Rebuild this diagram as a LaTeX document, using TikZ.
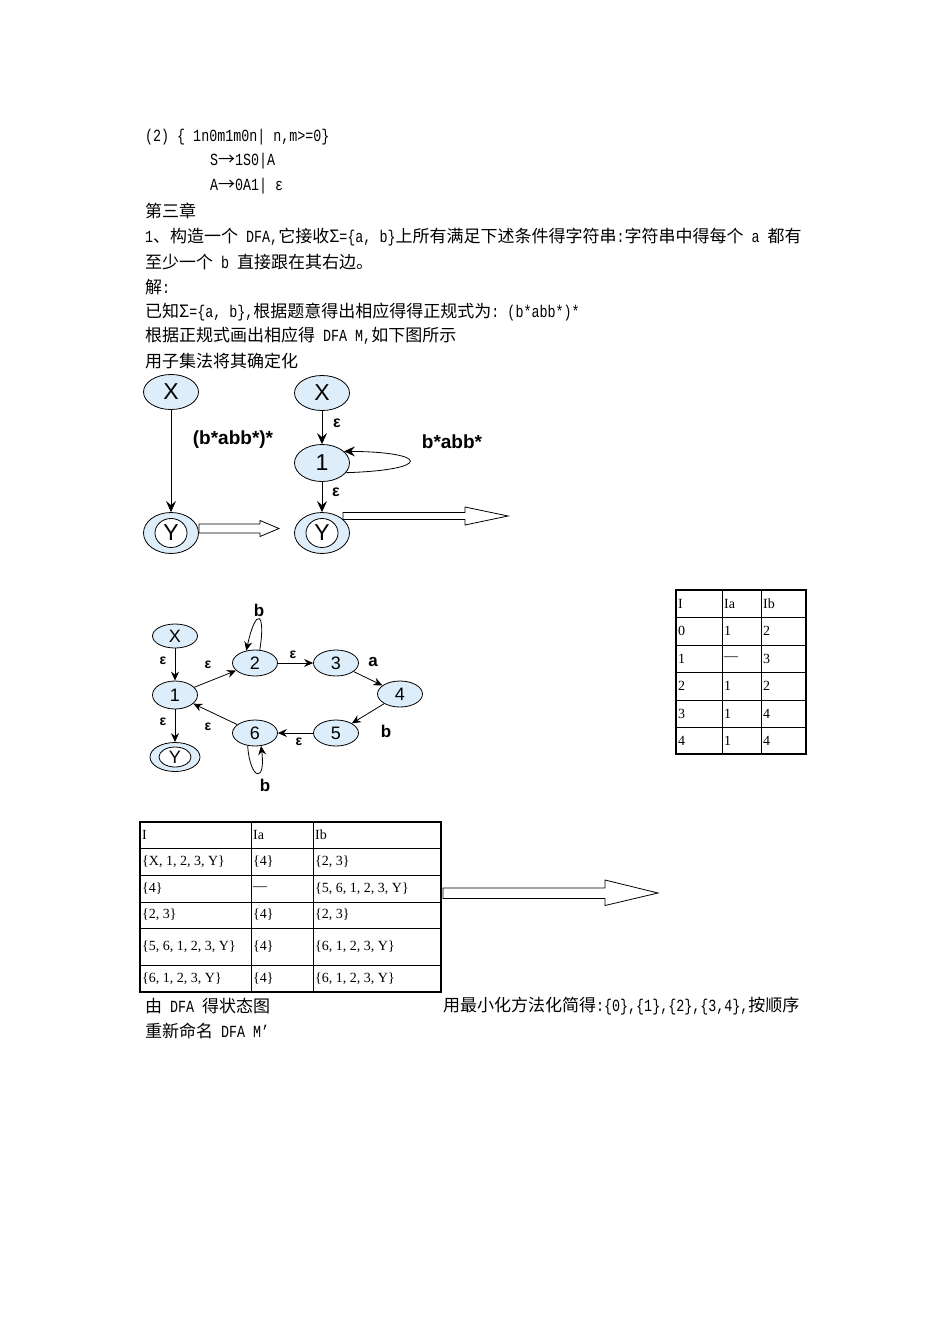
\documentclass[tikz,border=0pt]{standalone}
\usepackage{fontspec}
\setmainfont{Liberation Serif}
\newfontfamily\cjk{Noto Sans CJK SC}
\newfontfamily\lat[FakeStretch=0.785]{Liberation Mono}
\newfontfamily\lsans{Liberation Sans}
\usetikzlibrary{shapes.geometric,arrows.meta}
\definecolor{nodefill}{RGB}{221,238,250}
\newcommand\zh[1]{{\cjk #1}}
\begin{document}
\begin{tikzpicture}[x=1pt,y=-1pt,
  txt/.style={anchor=west,inner sep=0pt,font=\lat\fontsize{17}{19}\selectfont},
  cell/.style={anchor=west,inner sep=0pt,font=\fontsize{14}{16}\selectfont},
  bigst/.style={ellipse,draw=black,fill=nodefill,line width=0.8pt,inner sep=0pt,
     minimum width=55pt,minimum height=35pt,font=\lsans\fontsize{23}{24}\selectfont},
  bigin/.style={ellipse,draw=black,fill=white,line width=0.8pt,inner sep=0pt,
     minimum width=32pt,minimum height=29pt,font=\lsans\fontsize{23}{24}\selectfont},
  smst/.style={ellipse,draw=black,fill=nodefill,line width=0.8pt,inner sep=0pt,
     minimum width=45pt,minimum height=26pt,font=\lsans\fontsize{18}{20}\selectfont},
  smin/.style={ellipse,draw=black,fill=white,line width=0.8pt,inner sep=0pt,
     minimum width=32pt,minimum height=20pt,font=\lsans\fontsize{18}{20}\selectfont},
  bigarr/.style={-{Stealth[length=11pt,width=10pt,inset=4pt]},line width=0.8pt},
  smarr/.style={-{Stealth[length=9pt,width=8pt,inset=3pt]},line width=0.8pt},
  biglab/.style={inner sep=0pt,font=\lsans\bfseries\fontsize{19}{20}\selectfont},
  bigeps/.style={inner sep=0pt,font=\lsans\bfseries\fontsize{16}{18}\selectfont},
  eps/.style={inner sep=0pt,font=\lsans\bfseries\fontsize{14}{16}\selectfont},
  lab/.style={inner sep=0pt,font=\lsans\bfseries\fontsize{17}{18}\selectfont},
  hollow/.style={draw=black,fill=white,line width=0.8pt},
  thin/.style={line width=0.8pt},
  thick/.style={line width=2.2pt}
]
\useasboundingbox (0,0) rectangle (950,1344);

% ---------------- text lines ----------------
\node[txt] (l1) at (145,137) {(2)~\{~1n0m1m0n|~n,m>=0\}};
\node[txt] (l2) at (210,161) {S\zh{→}1S0|A};
\node[txt] (l3) at (210,186) {A\zh{→}0A1|~ε};
\node[txt] (l4) at (145,211) {\zh{第三章}};
\node[txt] (l5) at (145,237) {1\zh{、构造一个}~DFA,\zh{它接收Σ}=\{a,~b\}\zh{上所有满足下述条件得字符串}:\zh{字符串中得每个}~a~\zh{都有}};
\node[txt] (l6) at (145,262) {\zh{至少一个}~b~\zh{直接跟在其右边。}};
\node[txt] (l7) at (145,287) {\zh{解}:};
\node[txt] (l8) at (145,312) {\zh{已知Σ}=\{a,~b\},\zh{根据题意得出相应得得正规式为}:~(b*abb*)*};
\node[txt] (l9) at (145,336) {\zh{根据正规式画出相应得}~DFA~M,\zh{如下图所示}};
\node[txt] (l10) at (145,361) {\zh{用子集法将其确定化}};

% ---------------- top diagram ----------------
\node[bigst] (XA) at (171,392) {X};
\node[bigst,minimum height=41pt] (YA) at (171,533) {};
\node[bigin] (YAi) at (171,533) {Y};
\draw[bigarr] (XA) -- (YA);
\node[biglab] (labA) at (233,440) {(b*abb*)*};

\node[bigst] (XB) at (322,393) {X};
\node[bigst,minimum height=37pt] (B1) at (322,463) {1};
\node[bigst,minimum height=41pt] (YB) at (322,533) {};
\node[bigin] (YBi) at (322,533) {Y};
\draw[bigarr] (XB) -- (B1);
\draw[bigarr] (B1) -- (YB);
\node[bigeps] (eB1) at (337,423) {ε};
\node[bigeps] (eB2) at (336,492) {ε};
\draw[bigarr] (B1.-22) .. controls (432,470) and (430,452) .. (B1.28);
\node[biglab] (labB) at (452,442) {b*abb*};

\draw[hollow] (YA.east |- 0,524) -- (260,524) -- (260,520.5) -- (279,528.5) -- (260,536.5) -- (260,533) -- (YA.east |- 0,533) -- cycle;
\draw[hollow] (343,512.5) -- (465,512.5) -- (465,507) -- (508,516) -- (465,525) -- (465,519.5) -- (343,519.5) -- cycle;

% ---------------- second diagram ----------------
\node[smst,minimum height=24pt] (X2) at (175,636) {X};
\node[smst,minimum height=28pt] (S1) at (175,695) {1};
\node[smst,minimum width=50pt,minimum height=29pt] (Y2) at (175,757) {};
\node[smin] (Y2i) at (175,757) {Y};
\node[smst] (S2) at (255,663) {2};
\node[smst] (S3) at (336,663) {3};
\node[smst] (S4) at (400,694) {4};
\node[smst] (S5) at (336,733) {5};
\node[smst] (S6) at (255,733) {6};

\draw[smarr] (X2) -- (S1);
\draw[smarr] (S1) -- (Y2);
\draw[smarr] (S1) -- (S2);
\draw[smarr] (S2) -- (S3);
\draw[smarr] (S3) -- (S4);
\draw[smarr] (S4) -- (S5);
\draw[smarr] (S5) -- (S6);
\draw[smarr] (S6) -- (S1);
\draw[smarr] (S2.70) .. controls (266,612) and (256,606) .. (S2.125);
\draw[smarr] (S6.-120) .. controls (250,780) and (266,784) .. (S6.-65);

\node[eps] (e1) at (163,661) {ε};
\node[eps] (e2) at (208,665) {ε};
\node[eps] (e3) at (293,655) {ε};
\node[lab] (la) at (373,662) {a};
\node[lab] (lb1) at (386,731) {b};
\node[eps] (e4) at (299,742) {ε};
\node[eps] (e5) at (208,727) {ε};
\node[eps] (e6) at (163,722) {ε};
\node[lab] (lb2) at (259,610) {b};
\node[lab] (lb3) at (265,785) {b};

% ---------------- table 1 ----------------
\foreach \yy in {617,645,672,700,727} \draw[thin] (676,\yy) -- (806,\yy);
\draw[thin] (722,590) -- (722,754);
\draw[thin] (761,590) -- (761,754);
\draw[thick] (676,590) rectangle (806,754);
\node[cell] (ta00) at (678,603.5) {I};
\node[cell] (ta01) at (724,603.5) {Ia};
\node[cell] (ta02) at (763,603.5) {Ib};
\node[cell] (ta10) at (678,631) {0};
\node[cell] (ta11) at (724,631) {1};
\node[cell] (ta12) at (763,631) {2};
\node[cell] (ta20) at (678,658.5) {1};
\node[cell] (ta21) at (724,658.5) {—};
\node[cell] (ta22) at (763,658.5) {3};
\node[cell] (ta30) at (678,686) {2};
\node[cell] (ta31) at (724,686) {1};
\node[cell] (ta32) at (763,686) {2};
\node[cell] (ta40) at (678,713.5) {3};
\node[cell] (ta41) at (724,713.5) {1};
\node[cell] (ta42) at (763,713.5) {4};
\node[cell] (ta50) at (678,740.5) {4};
\node[cell] (ta51) at (724,740.5) {1};
\node[cell] (ta52) at (763,740.5) {4};

% ---------------- table 2 ----------------
\foreach \yy in {848,875,902,928,965} \draw[thin] (140,\yy) -- (441,\yy);
\draw[thin] (251,822) -- (251,992);
\draw[thin] (313,822) -- (313,992);
\draw[thick] (140,822) rectangle (441,992);
\node[cell] (tb00) at (142,835) {I};
\node[cell] (tb01) at (253,835) {Ia};
\node[cell] (tb02) at (315,835) {Ib};
\node[cell] (tb10) at (142,861.5) {\{X, 1, 2, 3, Y\}};
\node[cell] (tb11) at (253,861.5) {\{4\}};
\node[cell] (tb12) at (315,861.5) {\{2, 3\}};
\node[cell] (tb20) at (142,888.5) {\{4\}};
\node[cell] (tb21) at (253,888.5) {—};
\node[cell] (tb22) at (315,888.5) {\{5, 6, 1, 2, 3, Y\}};
\node[cell] (tb30) at (142,915) {\{2, 3\}};
\node[cell] (tb31) at (253,915) {\{4\}};
\node[cell] (tb32) at (315,915) {\{2, 3\}};
\node[cell] (tb40) at (142,946.5) {\{5, 6, 1, 2, 3, Y\}};
\node[cell] (tb41) at (253,946.5) {\{4\}};
\node[cell] (tb42) at (315,946.5) {\{6, 1, 2, 3, Y\}};
\node[cell] (tb50) at (142,978.5) {\{6, 1, 2, 3, Y\}};
\node[cell] (tb51) at (253,978.5) {\{4\}};
\node[cell] (tb52) at (315,978.5) {\{6, 1, 2, 3, Y\}};

\draw[hollow] (443,888) -- (605,888) -- (605,880) -- (658,893) -- (605,905.5) -- (605,898.5) -- (443,898.5) -- cycle;

% ---------------- bottom text ----------------
\node[txt] (b1) at (145,1006) {\zh{由}~DFA~\zh{得状态图}};
\node[txt] (b2) at (443,1006) {\zh{用最小化方法化简得}:\{0\},\{1\},\{2\},\{3,4\},\zh{按顺序}};
\node[txt] (b3) at (145,1031) {\zh{重新命名}~DFA~M’};
\end{tikzpicture}
\end{document}
